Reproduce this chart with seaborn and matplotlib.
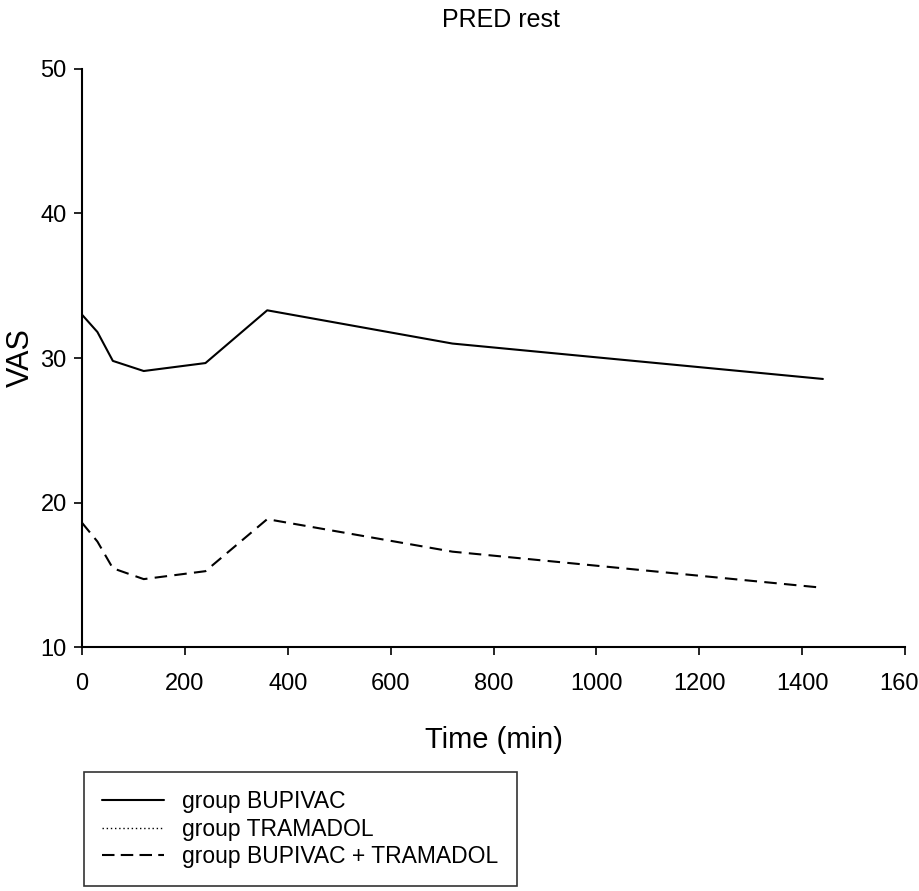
import numpy as np
import pandas as pd
import matplotlib
matplotlib.use('Agg')
import matplotlib.pyplot as plt
from matplotlib.lines import Line2D
import seaborn as sns

# Data
time_min = [0, 30, 60, 120, 240, 360, 720, 1440]
vas_bupivac = [33.0, 31.8, 29.8, 29.1, 29.65, 33.3, 31.0, 28.55]
vas_bupivac_tramadol = [18.6, 17.3, 15.45, 14.7, 15.25, 18.85, 16.6, 14.1]

group_names = ['group BUPIVAC', 'group TRAMADOL', 'group BUPIVAC + TRAMADOL']
x_ticks = [0, 200, 400, 600, 800, 1000, 1200, 1400, 1600]
y_ticks = [10, 20, 30, 40, 50]

df = pd.concat([
    pd.DataFrame({'time': time_min, 'vas': vas_bupivac, 'group': group_names[0]}),
    pd.DataFrame({'time': time_min, 'vas': vas_bupivac_tramadol, 'group': group_names[2]}),
])

sns.set_style('ticks')
plt.rcParams['font.family'] = ['Liberation Sans', 'DejaVu Sans']
plt.rcParams['text.color'] = 'black'
plt.rcParams['axes.labelcolor'] = 'black'
plt.rcParams['xtick.color'] = 'black'
plt.rcParams['ytick.color'] = 'black'

fig = plt.figure(figsize=(9.19, 8.91), dpi=100)
ax = fig.add_axes([0.0892, 0.2738, 0.8958, 0.6488])

sns.lineplot(data=df, x='time', y='vas', style='group',
             style_order=[group_names[0], group_names[2]],
             dashes={group_names[0]: '', group_names[2]: (6, 3.5)},
             color='black', linewidth=1.5, legend=False, ax=ax)

ax.set_xlim(0, 1600)
ax.set_ylim(10, 50)
ax.set_xticks(x_ticks)
ax.set_yticks(y_ticks)
ax.tick_params(axis='both', direction='out', length=6, width=1.2, labelsize=17, pad=13)
ax.tick_params(axis='y', pad=5)
for sp in ['top', 'right']:
    ax.spines[sp].set_visible(False)
for sp in ['left', 'bottom']:
    ax.spines[sp].set_linewidth(1.5)
    ax.spines[sp].set_color('black')

ax.set_xlabel('Time (min)', fontsize=21, labelpad=22)
ax.set_ylabel('VAS', fontsize=22)
ax.yaxis.set_label_coords(-0.056, 0.5)
fig.text(0.545, 0.978, 'PRED rest', ha='center', va='center', fontsize=18)

handles = [
    Line2D([], [], color='black', lw=1.5, linestyle='-'),
    Line2D([], [], color='black', lw=1.0, linestyle=(0, (1, 2))),
    Line2D([], [], color='black', lw=1.5, linestyle=(0, (6, 3))),
]
leg = fig.legend(handles, group_names, loc='upper left',
                 bbox_to_anchor=(0.091, 0.134), bbox_transform=fig.transFigure,
                 fontsize=16.5, frameon=True, fancybox=False, handlelength=2.7,
                 handletextpad=0.8, labelspacing=0.2, borderpad=0.8,
                 borderaxespad=0)
leg.get_frame().set_edgecolor('black')
leg.get_frame().set_linewidth(1.2)

fig.savefig('out.png', dpi=100, facecolor='white')
